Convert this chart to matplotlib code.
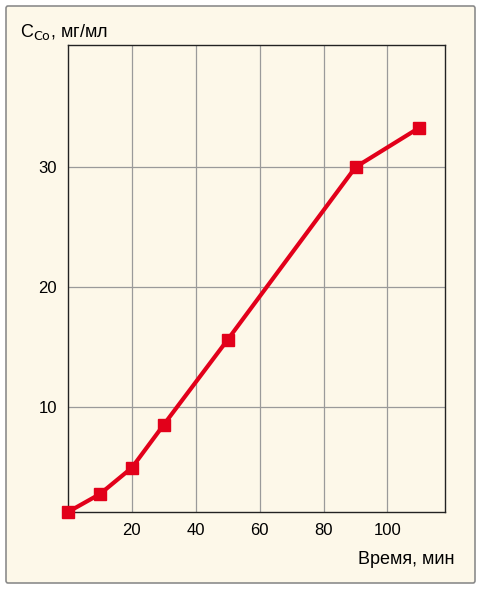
import matplotlib.pyplot as plt
from matplotlib.patches import FancyBboxPatch

plt.rcParams['font.family'] = ['Liberation Sans Narrow', 'Liberation Sans', 'DejaVu Sans']

time_min = [0, 10, 20, 30, 50, 90, 110]
conc = [1.2, 2.7, 4.9, 8.5, 15.6, 30.0, 33.3]
xticks = [20, 40, 60, 80, 100]
yticks = [10, 20, 30]

bg = '#fdf8e9'
red = '#e2001a'

fig = plt.figure(figsize=(4.81, 5.89), dpi=100)
fig.patch.set_facecolor('white')
frame = FancyBboxPatch((6 / 481, 6 / 589), 469 / 481, 577 / 589,
                       boxstyle='round,pad=0,rounding_size=0.004',
                       transform=fig.transFigure, facecolor=bg,
                       edgecolor='#8c8c8c', linewidth=1.2, zorder=-10)
fig.patches.append(frame)

ax = fig.add_axes([68 / 481, 77 / 589, 377 / 481, 467 / 589])
ax.set_zorder(5)
ax.set_facecolor(bg)
ax.set_xlim(0, 118)
ax.set_ylim(1.2, 40.2)
ax.set_xticks(xticks)
ax.set_yticks(yticks)
ax.grid(True, color='#9a9a9a', linewidth=0.9)
ax.set_axisbelow(True)
for s in ax.spines.values():
    s.set_color('#222222')
    s.set_linewidth(1.0)
ax.tick_params(length=0, labelsize=12, pad=8)

ax.plot(time_min, conc, '-', color=red, linewidth=3, marker='s',
        markersize=8, clip_on=False, zorder=3)

fig.text(20 / 481, 1 - 32 / 589, r'C$_{\rm Co}$, мг/мл', fontsize=13, va='center')
fig.text(455 / 481, 1 - 560 / 589, 'Время, мин', fontsize=13, ha='right', va='center')

plt.savefig('out.png', dpi=100, facecolor='white')
